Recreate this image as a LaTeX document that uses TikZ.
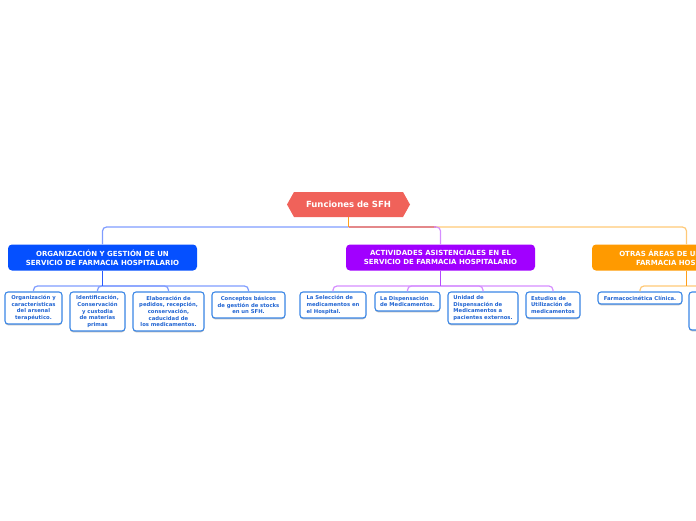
\documentclass[tikz,border=0pt]{standalone}
\usepackage{fontspec}
\setmainfont{DejaVu Sans}
\usetikzlibrary{shadows}
\definecolor{rootc}{HTML}{F0625A}
\definecolor{bluec}{HTML}{0550FF}
\definecolor{purc}{HTML}{A100FF}
\definecolor{orc}{HTML}{FF9A00}
\definecolor{leafb}{HTML}{3A86E6}
\definecolor{leaft}{HTML}{2064D2}
\definecolor{lblue}{HTML}{7F9CFF}
\definecolor{dblue}{HTML}{2A5CFF}
\definecolor{lpur}{HTML}{D58EFF}
\definecolor{dpur}{HTML}{B449FF}
\definecolor{lor}{HTML}{FFC977}
\definecolor{dor}{HTML}{FF9F1A}
\definecolor{pinkc}{HTML}{E4888A}
\begin{document}
\begin{tikzpicture}[x=1pt,y=-1pt,
 head/.style={fill=#1, rounded corners=4pt, minimum width=189pt, minimum height=26pt,
   text=white, font=\bfseries\fontsize{7.0}{8.9}\selectfont, align=center, inner sep=0pt},
 leaf/.style={draw=leafb, fill=white, line width=1.1pt, rounded corners=3pt, text=leaft,
   font=\bfseries\fontsize{5.3}{6.6}\selectfont, inner sep=0pt,
   drop shadow={shadow xshift=0pt, shadow yshift=-1.3pt, opacity=.25, fill=black}},
 conn/.style={line width=1.2pt, rounded corners=4pt},
 trunk/.style={line width=1.8pt}]
\useasboundingbox (0,0) rectangle (696,520);
\clip (0,0) rectangle (696,520);
% root
\fill[rootc] (287,204.5) -- (294,192) -- (403,192) -- (410,204.5) -- (403,217) -- (294,217) -- cycle;
\node[minimum width=123pt, minimum height=25pt, inner sep=0pt, text=white,
  font=\bfseries\fontsize{8.5}{10}\selectfont] (root) at (348.5,204.5) {Funciones de SFH};
% headers
\node[head=bluec] (h1) at (102.5,257.5) {ORGANIZACIÓN Y GESTIÓN DE UN\\SERVICIO DE FARMACIA HOSPITALARIO};
\node[head=purc] (h2) at (440.5,257.5) {ACTIVIDADES ASISTENCIALES EN EL\\SERVICIO DE FARMACIA HOSPITALARIO};
\node[head=orc] (h3) at (686.5,257.5) {OTRAS ÁREAS DE UN SERVICIO DE\\FARMACIA HOSPITALARIO};
% bus points
\coordinate (bus0) at (348.5,227);
\coordinate (bus1) at (102.5,286);
\coordinate (bus2) at (440.5,286);
\coordinate (bus3) at (686.5,286);
% root connectors
\draw[conn, lor] (bus0) -| (h3.north);
\draw[conn, pinkc] (bus0) -- (436,227);
\draw[conn, lpur] (434,227) -| (h2.north);
\draw[conn, lblue] (bus0) -| (h1.north);
\draw[trunk, dor] (root.south) -- (bus0);
% leaves
\node[leaf, minimum width=57pt, minimum height=32pt, align=center] (c11) at (33.5,308)
  {Organización y\\características\\del arsenal\\terapéutico.};
\node[leaf, minimum width=55pt, minimum height=39pt, align=center] (c12) at (97.5,311.5)
  {Identificación,\\Conservación\\y custodia\\de materias\\primas};
\node[leaf, minimum width=71pt, minimum height=39pt, align=center] (c13) at (168.5,311.5)
  {Elaboración de\\pedidos, recepción,\\conservación,\\caducidad de\\los medicamentos.};
\node[leaf, minimum width=73pt, minimum height=26pt, align=center] (c14) at (248.5,305)
  {Conceptos básicos\\de gestión de stocks\\en un SFH.};
\node[leaf, minimum width=66pt, minimum height=26pt, align=left] (c21) at (333,305)
  {La Selección de\\medicamentos en\\el Hospital.};
\node[leaf, minimum width=65pt, minimum height=19pt, align=left] (c22) at (407.5,301.5)
  {La Dispensación\\de Medicamentos.};
\node[leaf, minimum width=70pt, minimum height=32pt, align=left] (c23) at (483,308)
  {Unidad de\\Dispensación de\\Medicamentos a\\pacientes externos.};
\node[leaf, minimum width=54pt, minimum height=26pt, align=left] (c24) at (553,305)
  {Estudios de\\Utilización de\\medicamentos};
\node[leaf, minimum width=84pt, minimum height=12pt, align=left] (c31) at (640,298)
  {Farmacocinética Clínica.};
\node[leaf, minimum width=70pt, minimum height=38pt] (c32) at (724,311) {};
% branch connectors
\foreach \c in {c11,c12,c13,c14} \draw[conn, lblue] (bus1) -| (\c.north);
\foreach \c in {c21,c22,c23,c24} \draw[conn, lpur] (bus2) -| (\c.north);
\foreach \c in {c31,c32} \draw[conn, lor] (bus3) -| (\c.north);
\draw[trunk, dblue] (h1.south) -- (bus1);
\draw[trunk, dpur] (h2.south) -- (bus2);
\draw[trunk, dor] (h3.south) -- (bus3);
\end{tikzpicture}
\end{document}
